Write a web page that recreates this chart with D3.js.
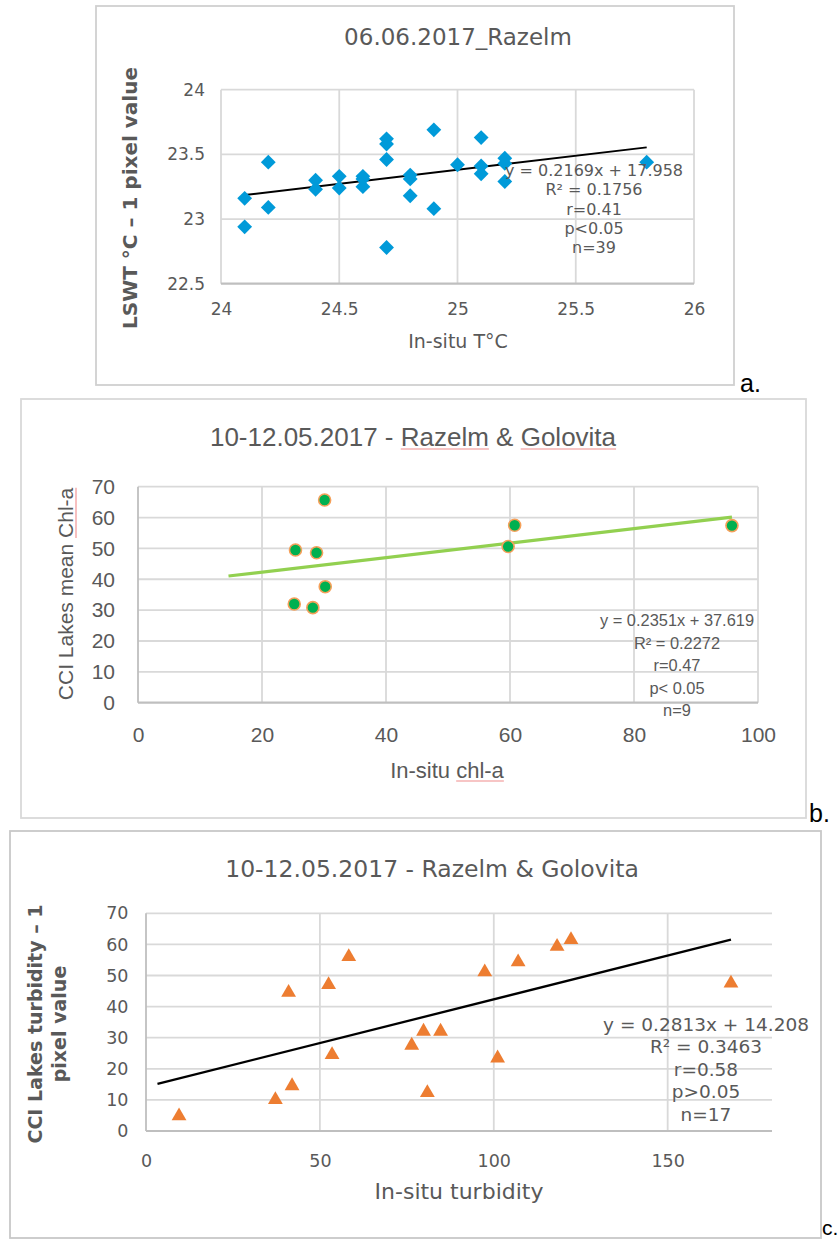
<!DOCTYPE html>
<html>
<head>
<meta charset="utf-8">
<script src="https://cdn.jsdelivr.net/npm/d3@7"></script>
<style>
  body { margin: 0; background: #fff; }
  svg { display: block; }
</style>
</head>
<body>
<div id="app"></div>
<script>
// ---- data ----
// a. 06.06.2017_Razelm
const aX = [24.1, 24.1, 24.2, 24.2, 24.4, 24.4, 24.5, 24.5, 24.6, 24.6, 24.6, 24.7, 24.7, 24.7, 24.7,
            24.8, 24.8, 24.8, 24.9, 24.9, 25.0, 25.1, 25.1, 25.1, 25.2, 25.2, 25.2, 25.8];
const aY = [23.16, 22.94, 23.44, 23.09, 23.30, 23.23, 23.33, 23.24, 23.33, 23.31, 23.25, 23.62, 23.58, 23.46, 22.78,
            23.34, 23.31, 23.18, 23.69, 23.08, 23.42, 23.63, 23.41, 23.35, 23.47, 23.43, 23.29, 23.44];
const aTrend = [0.2169, 17.958];
const aTrendX = [24.1, 25.8];
const aStats = ["y = 0.2169x + 17.958", "R² = 0.1756", "r=0.41", "p<0.05", "n=39"];
const aXTicks = [24, 24.5, 25, 25.5, 26];
const aYTicks = [22.5, 23, 23.5, 24];

// b. chl-a
const bX = [30.1, 25.4, 28.8, 30.2, 25.2, 28.2, 60.75, 59.7, 95.8];
const bY = [65.7, 49.5, 48.6, 37.6, 32.0, 30.8, 57.5, 50.6, 57.4];
const bTrend = [0.2351, 37.619];
const bTrendX = [14.6, 95.8];
const bStats = ["y = 0.2351x + 37.619", "R² = 0.2272", "r=0.47", "p< 0.05", "n=9"];
const bXTicks = [0, 20, 40, 60, 80, 100];
const bYTicks = [0, 10, 20, 30, 40, 50, 60, 70];

// c. turbidity
const cX = [9.5, 37.2, 42, 41, 52.5, 58.3, 53.5, 76.4, 79.8, 84.7, 80.9, 97.4, 101.1, 107, 118.2, 122.2, 168.2];
const cY = [5.3, 10.5, 15, 45, 47.5, 56.5, 25, 28, 32.5, 32.5, 12.8, 51.6, 23.9, 54.8, 59.8, 62, 48];
const cTrend = [0.2813, 14.208];
const cTrendX = [3.3, 168.2];
const cStats = ["y = 0.2813x + 14.208", "R² = 0.3463", "r=0.58", "p>0.05", "n=17"];
const cXTicks = [0, 50, 100, 150];
const cYTicks = [0, 10, 20, 30, 40, 50, 60, 70];

const TXT = "#595959";
const GRID = "#d9d9d9";
const AXIS = "#bfbfbf";

const svg = d3.select("#app").append("svg")
    .attr("width", 840)
    .attr("height", 1240);
svg.append("rect").attr("width", 840).attr("height", 1240).attr("fill", "#fff");

// text helper, optional rotation and red spell-check underlines
function label(parent, o) {
    const g = parent.append("g")
        .attr("transform", `translate(${o.x},${o.y})` + (o.rotate ? ` rotate(${o.rotate})` : ""));
    const t = g.append("text")
        .attr("text-anchor", o.anchor || "middle")
        .attr("font-family", o.family)
        .attr("font-size", o.size)
        .attr("font-weight", o.weight || "normal")
        .attr("fill", o.fill || TXT)
        .text(o.text);
    (o.underline || []).forEach((w) => {
        const i = o.text.indexOf(w);
        if (i < 0) return;
        const p = t.node().getStartPositionOfChar(i);
        const len = t.node().getSubStringLength(i, w.length);
        g.append("line")
            .attr("x1", p.x).attr("x2", p.x + len)
            .attr("y1", 3).attr("y2", 3)
            .attr("stroke", "#f08c8c")
            .attr("stroke-width", 1.1);
    });
    return g;
}

function panel(o) {
    const g = svg.append("g");
    const x = d3.scaleLinear().domain(o.xDomain).range([o.left, o.right]);
    const y = d3.scaleLinear().domain(o.yDomain).range([o.bottom, o.top]);

    // chart frame
    g.append("rect")
        .attr("x", o.box[0]).attr("y", o.box[1])
        .attr("width", o.box[2] - o.box[0]).attr("height", o.box[3] - o.box[1])
        .attr("fill", "#fff")
        .attr("stroke", o.boxColor)
        .attr("stroke-width", 1.8);

    // gridlines
    g.selectAll(".hgrid").data(o.yTicks.filter((d) => d !== o.yDomain[0])).enter()
        .append("line")
        .attr("x1", o.left).attr("x2", o.right)
        .attr("y1", (d) => y(d)).attr("y2", (d) => y(d))
        .attr("stroke", GRID).attr("stroke-width", 1.8);
    g.selectAll(".vgrid").data(o.xTicks.filter((d) => d !== o.xDomain[0])).enter()
        .append("line")
        .attr("x1", (d) => x(d)).attr("x2", (d) => x(d))
        .attr("y1", o.top).attr("y2", o.bottom)
        .attr("stroke", GRID).attr("stroke-width", 1.8);
    // left and bottom axis lines
    g.append("line")
        .attr("x1", o.left).attr("x2", o.left)
        .attr("y1", o.top).attr("y2", o.bottom)
        .attr("stroke", o.leftColor).attr("stroke-width", 1.8);
    g.append("line")
        .attr("x1", o.left).attr("x2", o.right)
        .attr("y1", o.bottom).attr("y2", o.bottom)
        .attr("stroke", AXIS).attr("stroke-width", 2.2);

    // tick labels
    const xa = g.append("g")
        .attr("transform", `translate(0,${o.bottom})`)
        .call(d3.axisBottom(x).tickValues(o.xTicks).tickSize(0).tickPadding(o.xPad).tickFormat((d) => String(d)));
    const ya = g.append("g")
        .attr("transform", `translate(${o.left},0)`)
        .call(d3.axisLeft(y).tickValues(o.yTicks).tickSize(0).tickPadding(o.yPad).tickFormat((d) => String(d)));
    [xa, ya].forEach((a) => {
        a.select(".domain").remove();
        a.selectAll("text")
            .attr("fill", TXT)
            .attr("font-family", o.family)
            .attr("font-size", o.tickSize);
    });

    // trendline
    g.append("line")
        .attr("x1", x(o.trendX[0])).attr("y1", y(o.trend[0] * o.trendX[0] + o.trend[1]))
        .attr("x2", x(o.trendX[1])).attr("y2", y(o.trend[0] * o.trendX[1] + o.trend[1]))
        .attr("stroke", o.trendColor)
        .attr("stroke-width", o.trendWidth);

    // markers
    const pts = o.xs.map((v, i) => [v, o.ys[i]]);
    o.marker(g.selectAll(".pt").data(pts).enter(), x, y);

    // trendline statistics
    o.stats.forEach((s, i) => {
        label(g, { x: o.statX, y: o.statY + i * o.statStep, text: s, family: o.family, size: o.statSize });
    });

    // titles
    label(g, Object.assign({ family: o.family }, o.title));
    label(g, Object.assign({ family: o.family }, o.xTitle));
    o.yTitle.forEach((t) => label(g, Object.assign({ family: o.family, rotate: -90 }, t)));
}

const DV = "DejaVu Sans, Verdana, sans-serif";
const LS = "Liberation Sans, Arial, sans-serif";

// ---- a ----
panel({
    box: [96, 6, 734, 385], boxColor: "#d0d0d0", leftColor: GRID,
    left: 221, right: 694, top: 89.7, bottom: 283.7,
    xDomain: [24, 26], yDomain: [22.5, 24], xTicks: aXTicks, yTicks: aYTicks,
    family: DV, tickSize: 17, xPad: 19, yPad: 16,
    xs: aX, ys: aY,
    trend: aTrend, trendX: aTrendX, trendColor: "#000", trendWidth: 2,
    marker: (sel, x, y) => sel.append("path")
        .attr("d", d3.symbol(d3.symbolSquare, 110)())
        .attr("transform", (d) => `translate(${x(d[0])},${y(d[1])}) rotate(45)`)
        .attr("fill", "#009ad9"),
    stats: aStats, statX: 594, statY: 176, statStep: 19.3, statSize: 16,
    title: { x: 458, y: 45, text: "06.06.2017_Razelm", size: 23 },
    xTitle: { x: 458, y: 348, text: "In-situ T°C", size: 19 },
    yTitle: [{ x: 137, y: 198, text: "LSWT °C – 1 pixel value", size: 20, weight: "bold" }],
});

// ---- b ----
panel({
    box: [21, 399, 806, 818], boxColor: "#d9d9d9", leftColor: AXIS,
    left: 138, right: 758, top: 486.7, bottom: 702.7,
    xDomain: [0, 100], yDomain: [0, 70], xTicks: bXTicks, yTicks: bYTicks,
    family: LS, tickSize: 21, xPad: 24, yPad: 23,
    xs: bX, ys: bY,
    trend: bTrend, trendX: bTrendX, trendColor: "#92d050", trendWidth: 3.2,
    marker: (sel, x, y) => sel.append("circle")
        .attr("cx", (d) => x(d[0])).attr("cy", (d) => y(d[1]))
        .attr("r", 6)
        .attr("fill", "#00b050")
        .attr("stroke", "#f5a05a")
        .attr("stroke-width", 1.6),
    stats: bStats, statX: 677, statY: 626, statStep: 22.5, statSize: 16.4,
    title: { x: 413, y: 446, text: "10-12.05.2017 - Razelm & Golovita", size: 26, underline: ["Razelm", "Golovita"] },
    xTitle: { x: 447, y: 778, text: "In-situ chl-a", size: 22, underline: ["chl-a"] },
    yTitle: [{ x: 73, y: 594, text: "CCI Lakes mean Chl-a", size: 21, underline: ["Chl-a"] }],
});

// ---- c ----
panel({
    box: [10, 831, 821, 1238], boxColor: "#c8c8c8", leftColor: AXIS,
    left: 146, right: 772, top: 913.3, bottom: 1131,
    xDomain: [0, 180], yDomain: [0, 70], xTicks: cXTicks, yTicks: cYTicks,
    family: DV, tickSize: 17.5, xPad: 23.5, yPad: 17.5,
    xs: cX, ys: cY,
    trend: cTrend, trendX: cTrendX, trendColor: "#000", trendWidth: 2.3,
    marker: (sel, x, y) => sel.append("path")
        .attr("d", d3.symbol(d3.symbolTriangle, 95)())
        .attr("transform", (d) => `translate(${x(d[0])},${y(d[1]) + 1.5})`)
        .attr("fill", "#ed7d31"),
    stats: cStats, statX: 706, statY: 1030.5, statStep: 22.5, statSize: 18.5,
    title: { x: 432, y: 877, text: "10-12.05.2017 - Razelm & Golovita", size: 23.5 },
    xTitle: { x: 459, y: 1199, text: "In-situ turbidity", size: 22 },
    yTitle: [
        { x: 41.5, y: 1024, text: "CCI Lakes turbidity – 1", size: 19, weight: "bold" },
        { x: 66, y: 1024, text: "pixel value", size: 19, weight: "bold" },
    ],
});

// panel letters
[["a.", 740, 392, 25], ["b.", 809, 822, 25], ["c.", 822, 1235, 21]].forEach(([t, x, y, s]) => {
    svg.append("text")
        .attr("x", x).attr("y", y)
        .attr("font-family", LS)
        .attr("font-size", s)
        .attr("fill", "#000")
        .text(t);
});
</script>
</body>
</html>
